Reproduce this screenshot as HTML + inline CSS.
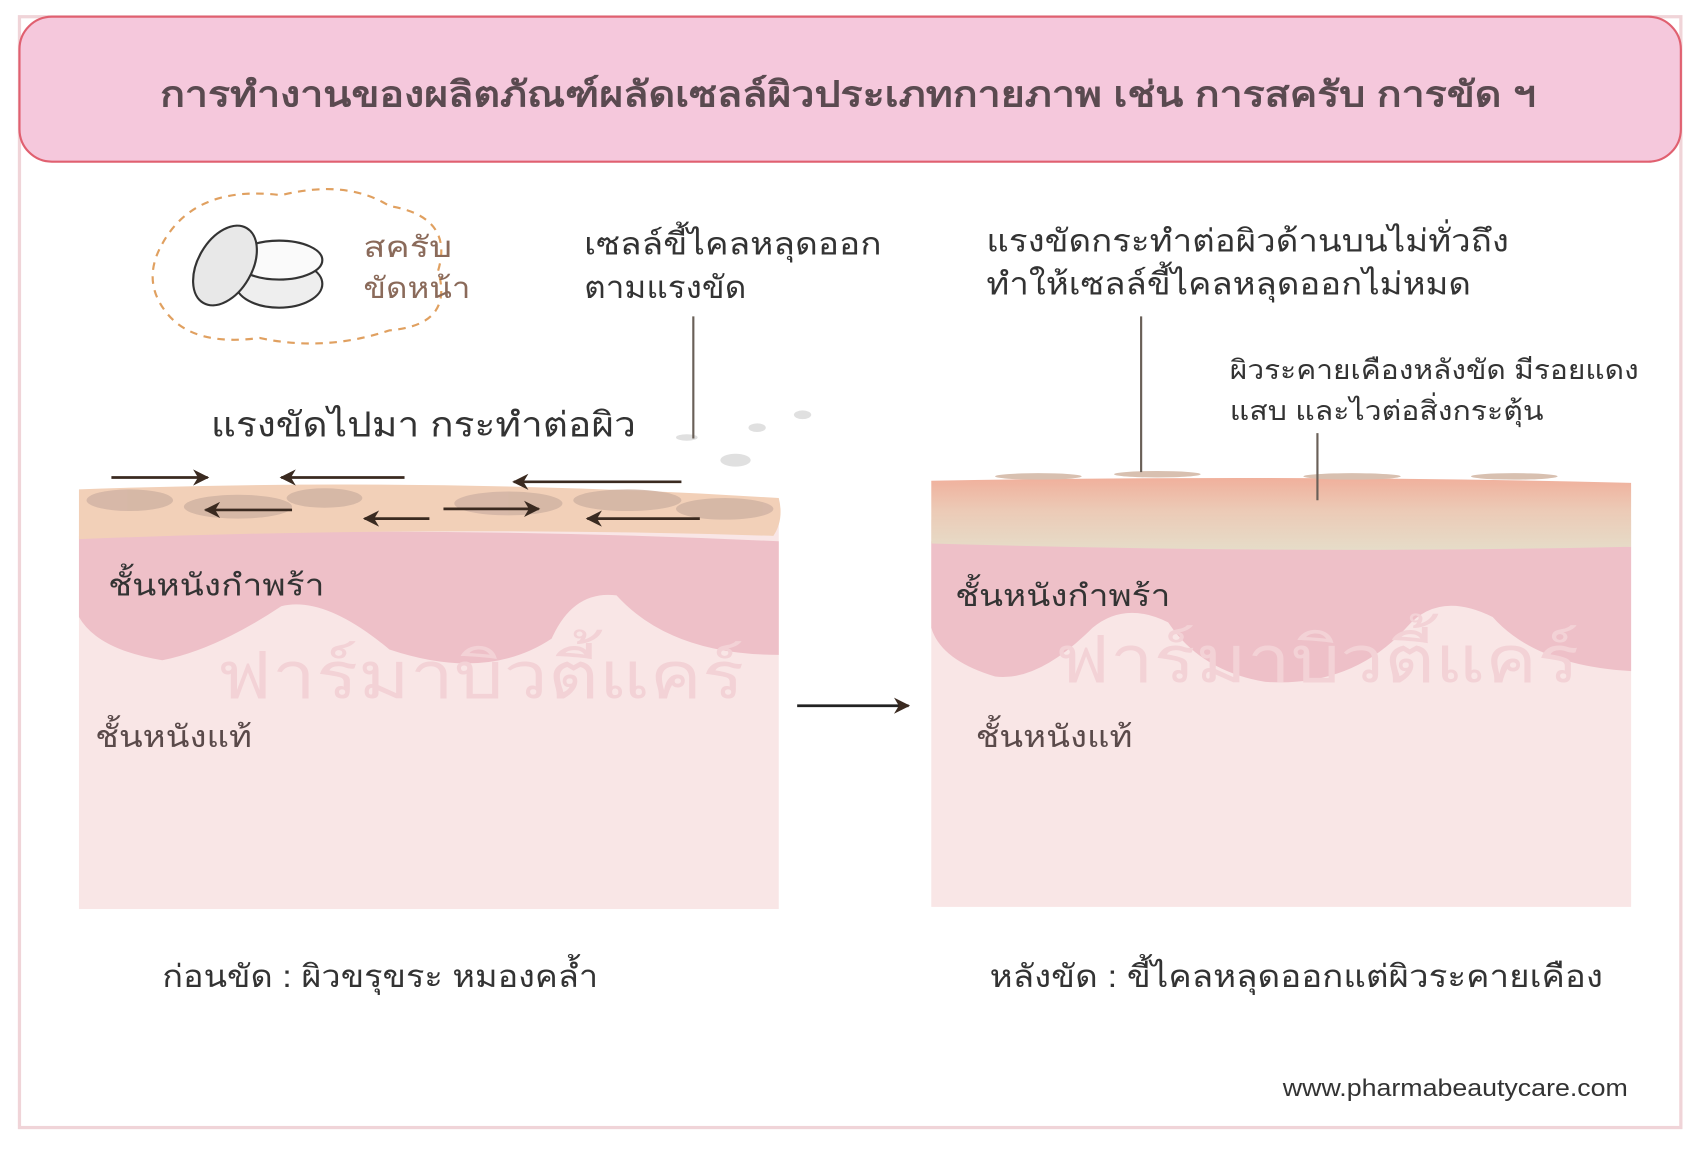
<!DOCTYPE html>
<html><head><meta charset="utf-8"><style>
html,body{margin:0;padding:0;background:#fff;}
svg{display:block;}
text{font-family:"Liberation Sans","DejaVu Sans","Noto Sans CJK SC",sans-serif;}
</style></head><body>
<svg width="1696" height="1154" viewBox="0 0 1568 1066" xmlns="http://www.w3.org/2000/svg">
<defs>
<marker id="ah" viewBox="0 0 10 10" refX="9" refY="5" markerWidth="6" markerHeight="6" orient="auto"><path d="M0,0 L10,5 L0,10 L3,5 z" fill="#3a2a20"/></marker>
<linearGradient id="rg" x1="0" y1="0" x2="0" y2="1"><stop offset="0" stop-color="#f0b09c"/><stop offset="0.45" stop-color="#eccab6"/><stop offset="1" stop-color="#e6dcc8"/></linearGradient>
</defs>
<rect x="18" y="15" width="1536" height="1027" fill="#fff" stroke="#f0d4d8" stroke-width="3"/>
<rect x="18" y="15" width="1536" height="134" rx="30" fill="#f5c8dc" stroke="#e06070" stroke-width="2"/>
<text x="148" y="98" font-size="33" font-weight="bold" fill="#5a4a50" textLength="1272" lengthAdjust="spacingAndGlyphs">การทำงานของผลิตภัณฑ์ผลัดเซลล์ผิวประเภทกายภาพ เช่น การสครับ การขัด ฯ</text>

<!-- left panel -->
<rect x="73" y="480" width="647" height="360" fill="#f9e6e6"/>
<path d="M73,495 Q400,485 720,500 L720,605 Q620,605 570,550 Q530,545 510,590 Q450,630 360,600 Q300,550 260,560 Q200,600 150,610 Q90,600 73,570 Z" fill="#eec0c8"/>
<path d="M73,452 Q400,440 720,460 Q725,480 715,495 Q400,485 73,498 Z" fill="#f2d0b8"/>
<g fill="#d2b4a4" opacity="0.85">
<ellipse cx="120" cy="462" rx="40" ry="10"/><ellipse cx="220" cy="468" rx="50" ry="11"/><ellipse cx="300" cy="460" rx="35" ry="9"/><ellipse cx="470" cy="465" rx="50" ry="11"/><ellipse cx="580" cy="462" rx="50" ry="10"/><ellipse cx="670" cy="470" rx="45" ry="10"/>
</g>
<g fill="#e0e0e0"><ellipse cx="680" cy="425" rx="14" ry="6"/><ellipse cx="700" cy="395" rx="8" ry="4"/><ellipse cx="742" cy="383" rx="8" ry="4"/><ellipse cx="635" cy="404" rx="10" ry="3"/></g>
<g stroke="#3a2a20" stroke-width="2.5" marker-end="url(#ah)">
<line x1="103" y1="441" x2="192" y2="441"/><line x1="374" y1="441" x2="260" y2="441"/><line x1="630" y1="445" x2="475" y2="445"/>
<line x1="270" y1="471" x2="190" y2="471"/><line x1="397" y1="479" x2="337" y2="479"/><line x1="410" y1="470" x2="498" y2="470"/><line x1="647" y1="479" x2="543" y2="479"/>
</g>
<line x1="641" y1="292" x2="641" y2="405" stroke="#6a6058" stroke-width="2"/>
<text x="195" y="403" font-size="32" fill="#333" textLength="393" lengthAdjust="spacingAndGlyphs">แรงขัดไปมา กระทำต่อผิว</text>
<text x="540" y="235" font-size="29" fill="#333" textLength="275" lengthAdjust="spacingAndGlyphs">เซลล์ขี้ไคลหลุดออก</text>
<text x="540" y="275" font-size="29" fill="#333" textLength="150" lengthAdjust="spacingAndGlyphs">ตามแรงขัด</text>
<text x="100" y="550" font-size="28" fill="#333" textLength="200" lengthAdjust="spacingAndGlyphs">ชั้นหนังกำพร้า</text>
<text x="88" y="690" font-size="28" fill="#5a4a4a" textLength="145" lengthAdjust="spacingAndGlyphs">ชั้นหนังแท้</text>
<text x="200" y="645" font-size="60" fill="#f3d2d6" textLength="488" lengthAdjust="spacingAndGlyphs">ฟาร์มาบิวตี้แคร์</text>
<!-- jar -->
<path d="M150,225 Q180,170 260,180 Q320,165 360,190 Q420,200 405,250 Q420,300 360,305 Q300,325 240,312 Q180,320 155,290 Q130,260 150,225 Z" fill="none" stroke="#e0a060" stroke-width="2" stroke-dasharray="7,6"/>
<ellipse cx="258" cy="262" rx="40" ry="22" fill="#eee" stroke="#333" stroke-width="2"/>
<ellipse cx="258" cy="240" rx="40" ry="18" fill="#fafafa" stroke="#333" stroke-width="2"/>
<ellipse cx="208" cy="245" rx="25" ry="40" transform="rotate(30 208 245)" fill="#e8e8e8" stroke="#333" stroke-width="2"/>
<text x="336" y="237" font-size="27" fill="#8a6a5a" textLength="82" lengthAdjust="spacingAndGlyphs">สครับ</text>
<text x="336" y="275" font-size="27" fill="#8a6a5a" textLength="99" lengthAdjust="spacingAndGlyphs">ขัดหน้า</text>
<text x="150" y="912" font-size="29" fill="#333" textLength="403" lengthAdjust="spacingAndGlyphs">ก่อนขัด : ผิวขรุขระ หมองคล้ำ</text>

<line x1="737" y1="652" x2="840" y2="652" stroke="#222" stroke-width="2.5" marker-end="url(#ah)"/>

<!-- right panel -->
<rect x="861" y="480" width="647" height="358" fill="#f9e6e6"/>
<path d="M861,500 Q1200,490 1508,505 L1508,620 Q1420,615 1380,570 Q1330,545 1300,580 Q1250,635 1170,630 Q1110,620 1080,575 Q1040,555 1010,580 Q960,630 920,625 Q870,610 861,580 Z" fill="#eec0c8"/>
<path d="M861,444 Q1200,438 1508,446 L1508,505 Q1200,512 861,502 Z" fill="url(#rg)"/>
<g fill="#d8c0b0"><ellipse cx="960" cy="440" rx="40" ry="3"/><ellipse cx="1070" cy="438" rx="40" ry="3"/><ellipse cx="1250" cy="440" rx="45" ry="3"/><ellipse cx="1400" cy="440" rx="40" ry="3"/></g>
<line x1="1055" y1="292" x2="1055" y2="436" stroke="#6a6058" stroke-width="2"/>
<line x1="1218" y1="400" x2="1218" y2="462" stroke="#6a6058" stroke-width="2"/>
<text x="912" y="232" font-size="29" fill="#333" textLength="483" lengthAdjust="spacingAndGlyphs">แรงขัดกระทำต่อผิวด้านบนไม่ทั่วถึง</text>
<text x="912" y="272" font-size="29" fill="#333" textLength="448" lengthAdjust="spacingAndGlyphs">ทำให้เซลล์ขี้ไคลหลุดออกไม่หมด</text>
<text x="1137" y="350" font-size="25" fill="#333" textLength="378" lengthAdjust="spacingAndGlyphs">ผิวระคายเคืองหลังขัด มีรอยแดง</text>
<text x="1137" y="388" font-size="25" fill="#333" textLength="290" lengthAdjust="spacingAndGlyphs">แสบ และไวต่อสิ่งกระตุ้น</text>
<text x="883" y="560" font-size="28" fill="#333" textLength="199" lengthAdjust="spacingAndGlyphs">ชั้นหนังกำพร้า</text>
<text x="902" y="690" font-size="28" fill="#5a4a4a" textLength="145" lengthAdjust="spacingAndGlyphs">ชั้นหนังแท้</text>
<text x="975" y="630" font-size="60" fill="#f3d2d6" textLength="485" lengthAdjust="spacingAndGlyphs">ฟาร์มาบิวตี้แคร์</text>
<text x="915" y="912" font-size="29" fill="#333" textLength="567" lengthAdjust="spacingAndGlyphs">หลังขัด : ขี้ไคลหลุดออกแต่ผิวระคายเคือง</text>
<text x="1186" y="1013" font-size="22" fill="#333" textLength="319" lengthAdjust="spacingAndGlyphs">www.pharmabeautycare.com</text>
</svg>
</body></html>
